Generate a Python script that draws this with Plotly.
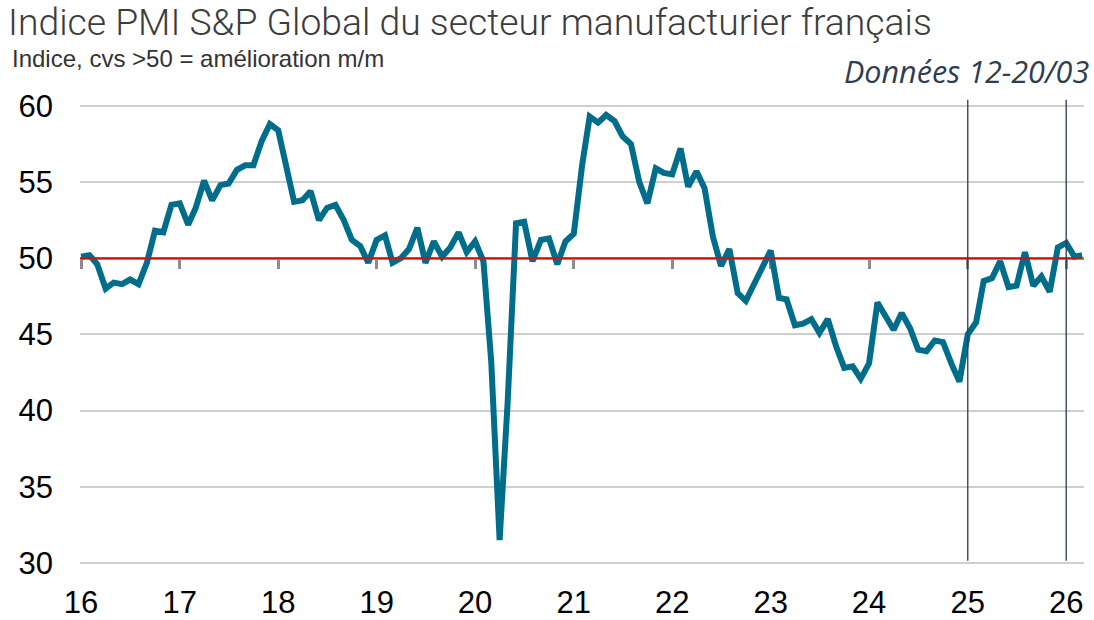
import plotly.graph_objects as go
import pandas as pd

# ---- Data (monthly PMI, Jan 2016 - Mar 2026) ----
pmi_2016 = [50.1, 50.2, 49.6, 48.0, 48.4, 48.3, 48.6, 48.3, 49.7, 51.8, 51.7, 53.5]
pmi_2017 = [53.6, 52.2, 53.3, 55.1, 53.8, 54.8, 54.9, 55.8, 56.1, 56.1, 57.7, 58.8]
pmi_2018 = [58.4, 55.9, 53.7, 53.8, 54.4, 52.5, 53.3, 53.5, 52.5, 51.2, 50.8, 49.7]
pmi_2019 = [51.2, 51.5, 49.7, 50.0, 50.6, 52.0, 49.7, 51.1, 50.1, 50.7, 51.7, 50.4]
pmi_2020 = [51.1, 49.8, 43.2, 31.5, 40.6, 52.3, 52.4, 49.8, 51.2, 51.3, 49.6, 51.1]
pmi_2021 = [51.6, 56.1, 59.3, 58.9, 59.4, 59.0, 58.0, 57.5, 55.0, 53.6, 55.9, 55.6]
pmi_2022 = [55.5, 57.2, 54.7, 55.7, 54.6, 51.4, 49.5, 50.6, 47.7, 47.2, 48.3, 49.2]
pmi_2023 = [50.5, 47.4, 47.3, 45.6, 45.7, 46.0, 45.1, 46.0, 44.2, 42.8, 42.9, 42.1]
pmi_2024 = [43.1, 47.1, 46.2, 45.3, 46.4, 45.4, 44.0, 43.9, 44.6, 44.5, 43.1, 41.9]
pmi_2025 = [45.0, 45.8, 48.5, 48.7, 49.8, 48.1, 48.2, 50.4, 48.2, 48.8, 47.8, 50.7]
pmi_2026 = [51.0, 50.1, 50.2]

pmi = (pmi_2016 + pmi_2017 + pmi_2018 + pmi_2019 + pmi_2020 + pmi_2021
       + pmi_2022 + pmi_2023 + pmi_2024 + pmi_2025 + pmi_2026)
months = pd.date_range("2016-01-01", periods=len(pmi), freq="MS")

year_labels = ["16", "17", "18", "19", "20", "21", "22", "23", "24", "25", "26"]
year_ticks = [f"20{y}-01-01" for y in year_labels]
y_ticks = [30, 35, 40, 45, 50, 55, 60]
threshold = 50
marker_dates = ["2025-01-01", "2026-01-01"]

title_text = "Indice PMI S&P Global du secteur manufacturier français"
subtitle_text = "Indice, cvs >50 = amélioration m/m"
note_text = "Données 12-20/03"

# ---- Layout geometry (body margin removed by post_script) ----
W, H = 1094, 620
ML, MR, MT, MB = 80, 10, 99, 54
PW, PH = W - ML - MR, H - MT - MB
Y_RANGE = [29.8, 60.45]


def px_to_paper(px, py):
    """Page pixel -> paper coordinates."""
    return (px - ML) / PW, (H - MB - py) / PH


fig = go.Figure()
fig.add_trace(go.Scatter(
    x=months, y=pmi, mode="lines",
    line=dict(color="#006E8A", width=6),
    showlegend=False, hoverinfo="x+y",
))
# invisible trace carrying the mid-axis (ticks at 50)
fig.add_trace(go.Scatter(
    x=months, y=pmi, mode="lines", xaxis="x2",
    line=dict(width=0), opacity=0, showlegend=False, hoverinfo="skip",
))

# threshold line
fig.add_shape(type="line", xref="paper", yref="y", x0=0, x1=0.998,
              y0=threshold, y1=threshold,
              line=dict(color="#CC1111", width=1.5), layer="above")
# vertical markers
for d in marker_dates:
    fig.add_shape(type="line", xref="x", yref="y", x0=d, x1=d,
                  y0=30.15, y1=60.4,
                  line=dict(color="#2B3A4C", width=1.3), layer="above")

mid_pos = (threshold - Y_RANGE[0]) / (Y_RANGE[1] - Y_RANGE[0])

fig.update_layout(
    width=W, height=H,
    margin=dict(l=ML, r=MR, t=MT, b=MB, autoexpand=False),
    plot_bgcolor="white", paper_bgcolor="white",
    xaxis=dict(
        type="date", range=["2015-12-28", "2026-03-08"],
        tickvals=year_ticks, ticktext=year_labels, automargin=False,
        showgrid=False, zeroline=False, showline=False,
        ticks="", ticklabelstandoff=15,
        tickfont=dict(family="Liberation Sans, Arial", size=31, color="#000000"),
    ),
    xaxis2=dict(
        type="date", overlaying="x", matches="x", anchor="free", position=mid_pos,
        tickvals=year_ticks, showticklabels=False, showgrid=False, zeroline=False,
        showline=True, linecolor="#8C8C8C", linewidth=2.5, automargin=False,
        ticks="outside", ticklen=9, tickwidth=3, tickcolor="#8C8C8C",
        layer="below traces",
    ),
    yaxis=dict(
        range=Y_RANGE, tickvals=y_ticks, automargin=False,
        showgrid=True, gridcolor="#CFCFCF", gridwidth=1.5,
        zeroline=False, showline=False, ticks="", ticklabelstandoff=26,
        tickfont=dict(family="Liberation Sans, Arial", size=31, color="#000000"),
    ),
)

tx, ty = px_to_paper(7, 22)
sx, sy = px_to_paper(10, 58)
nx, ny = px_to_paper(1091, 71)
fig.add_annotation(text=title_text, x=tx, y=ty, xref="paper", yref="paper",
                   xanchor="left", yanchor="middle", showarrow=False, borderpad=0,
                   font=dict(family="Roboto", size=37.3, color="#3C3C3C", weight=300))
fig.add_annotation(text=subtitle_text, x=sx, y=sy, xref="paper", yref="paper",
                   xanchor="left", yanchor="middle", showarrow=False,
                   font=dict(family="Liberation Sans, Arial", size=24, color="#333333"))
fig.add_annotation(text=note_text, x=nx, y=ny, xref="paper", yref="paper",
                   xanchor="right", yanchor="middle", showarrow=False,
                   font=dict(family="Open Sans", size=30.5, color="#2E3E50", style="italic"))

fig.write_html(
    "out.html",
    config={"displayModeBar": False},
    post_script="document.body.style.margin='0';document.body.style.overflow='hidden';",
)
